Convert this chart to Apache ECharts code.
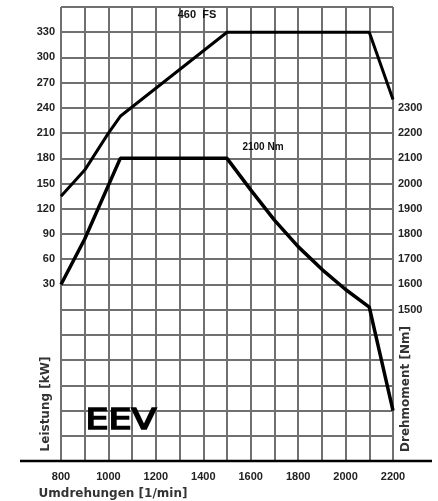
<!DOCTYPE html>
<html>
<head>
<meta charset="utf-8">
<script src="https://cdn.jsdelivr.net/npm/echarts@6/dist/echarts.min.js"></script>
<style>
  html, body { margin: 0; padding: 0; background: #fff; }
  #chart { width: 438px; height: 501px; }
</style>
</head>
<body>
<div id="chart"></div>
<script>
// Drehzahl [1/min] -> Leistung [kW]
const powerCurve = [[800, 135], [900, 166], [1000, 210], [1050, 230], [1500, 330], [2100, 330], [2200, 250]];
// Drehzahl [1/min] -> Drehmoment [Nm]
const torqueCurve = [[800, 1600], [900, 1780], [1050, 2100], [1500, 2100], [1600, 1975], [1700, 1855],
    [1800, 1750], [1900, 1660], [2000, 1580], [2100, 1510], [2200, 1100]];
const rpmRange = [800, 2200];
const kwRange = [-180, 360];
const nmRange = [900, 2700];
const kwLabelRange = [30, 330];
const nmLabelRange = [1500, 2300];

const gridColor = '#707070';
const labelFont = { color: '#222', fontFamily: 'Liberation Sans, Arial', fontSize: 11, fontWeight: 'bold' };

const chart = echarts.init(document.getElementById('chart'));
chart.setOption({
    backgroundColor: '#fff',
    animation: false,
    grid: { left: 61, right: 45, top: 7, bottom: 40 },
    xAxis: {
        type: 'value',
        min: rpmRange[0], max: rpmRange[1], interval: 100,
        axisLine: { show: false },
        axisTick: { show: false },
        axisLabel: Object.assign({
            margin: 10,
            formatter: v => (v % 200 === 0 ? String(v) : '')
        }, labelFont),
        splitLine: { show: true, lineStyle: { color: gridColor, width: 2 } }
    },
    yAxis: [{
        type: 'value',
        min: kwRange[0], max: kwRange[1], interval: 30,
        axisLine: { show: false },
        axisTick: { show: false },
        axisLabel: Object.assign({
            margin: 6,
            formatter: v => (v >= kwLabelRange[0] && v <= kwLabelRange[1] ? String(v) : '')
        }, labelFont),
        splitLine: { show: true, lineStyle: { color: gridColor, width: 2 } }
    }, {
        type: 'value',
        min: nmRange[0], max: nmRange[1], interval: 100,
        axisLine: { show: false },
        axisTick: { show: false },
        axisLabel: Object.assign({
            margin: 5,
            formatter: v => (v >= nmLabelRange[0] && v <= nmLabelRange[1] ? String(v) : '')
        }, labelFont),
        splitLine: { show: false }
    }],
    series: [{
        name: 'Leistung',
        type: 'line',
        yAxisIndex: 0,
        data: powerCurve,
        showSymbol: false,
        lineStyle: { color: '#000', width: 3 },
        z: 5
    }, {
        name: 'Drehmoment',
        type: 'line',
        yAxisIndex: 1,
        data: torqueCurve,
        showSymbol: false,
        lineStyle: { color: '#000', width: 3.5 },
        z: 5
    }],
    graphic: [
        // durchgehende Grundlinie
        { type: 'line', shape: { x1: 20, y1: 461, x2: 432, y2: 461 }, style: { stroke: '#000', lineWidth: 2.5 }, z: 10 },
        { type: 'text', x: 197, y: 15, style: { text: '460  FS', font: 'bold 11px "Liberation Sans", Arial', fill: '#111', align: 'center', verticalAlign: 'middle' }, z: 10 },
        { type: 'text', x: 263, y: 147, style: { text: '2100 Nm', font: 'bold 10px "Liberation Sans", Arial', fill: '#111', align: 'center', verticalAlign: 'middle' }, z: 10 },
        { type: 'text', x: 121, y: 422, scaleX: 1.3, originX: 0, originY: 0, style: { text: 'EEV', font: '28px "DejaVu Sans"', fill: '#000', stroke: '#000', lineWidth: 1.6, align: 'center', verticalAlign: 'middle' }, z: 10 },
        { type: 'text', x: 46, y: 404, rotation: Math.PI / 2, style: { text: 'Leistung [kW]', font: 'bold 12px "DejaVu Sans"', fill: '#333', align: 'center', verticalAlign: 'middle' }, z: 10 },
        { type: 'text', x: 406, y: 389, rotation: Math.PI / 2, style: { text: 'Drehmoment [Nm]', font: 'bold 12px "DejaVu Sans"', fill: '#333', align: 'center', verticalAlign: 'middle' }, z: 10 },
        { type: 'text', x: 113, y: 494, style: { text: 'Umdrehungen [1/min]', font: 'bold 12px "DejaVu Sans"', fill: '#333', align: 'center', verticalAlign: 'middle' }, z: 10 }
    ]
});
</script>
</body>
</html>
